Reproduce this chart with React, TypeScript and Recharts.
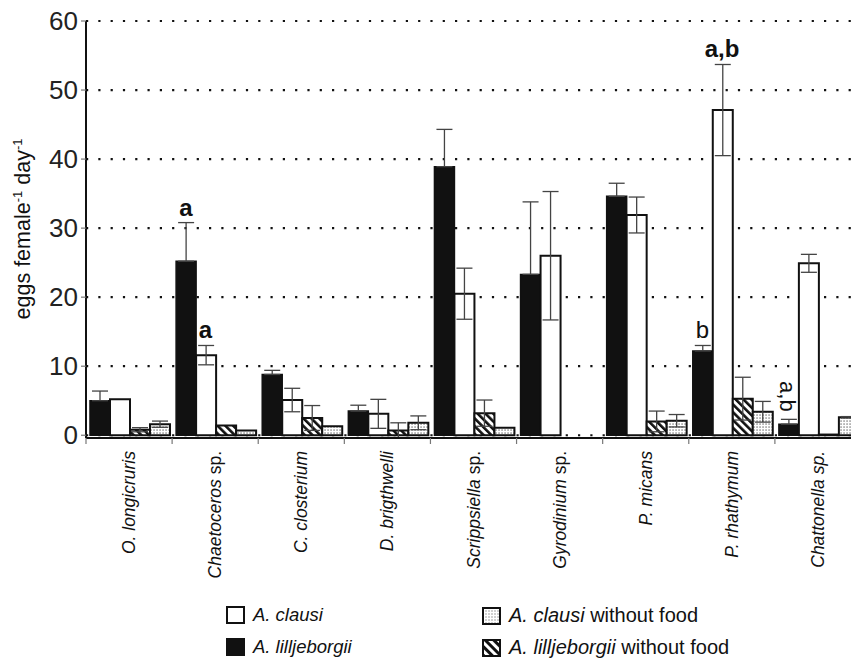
import React from 'react';
import { BarChart, Bar, XAxis, YAxis, CartesianGrid, ErrorBar, ReferenceDot } from 'recharts';

const categories = [
  'O. longicruris',
  'Chaetoceros sp.',
  'C. closterium',
  'D. brigthwelli',
  'Scrippsiella sp.',
  'Gyrodinium sp.',
  'P. micans',
  'P. rhathymum',
  'Chattonella sp.',
];
// italic part / upright suffix of each tick label
const labelItalic = ['O. longicruris', 'Chaetoceros', 'C. closterium', 'D. brigthwelli', 'Scrippsiella', 'Gyrodinium', 'P. micans', 'P. rhathymum', 'Chattonella sp.'];
const labelPlain = ['', ' sp.', '', '', ' sp.', ' sp.', '', '', ''];

const lilljeborgii = [5.0, 25.2, 8.8, 3.5, 38.9, 23.3, 34.6, 12.2, 1.6];
const lilljeborgiiErr = [1.4, 5.6, 0.6, 0.85, 5.4, 10.5, 1.9, 0.8, 0.7];
const clausi = [5.2, 11.6, 5.1, 3.1, 20.5, 26.0, 31.9, 47.1, 24.9];
const clausiErr = [0, 1.4, 1.7, 2.1, 3.7, 9.3, 2.6, 6.6, 1.3];
const lilljeborgiiNoFood = [0.8, 1.4, 2.5, 0.7, 3.2, null, 2.0, 5.3, 0.1];
const lilljeborgiiNoFoodErr = [0.3, 0, 1.8, 1.1, 1.9, null, 1.5, 3.1, 0];
const clausiNoFood = [1.6, 0.7, 1.3, 1.8, 1.1, null, 2.1, 3.4, 2.6];
const clausiNoFoodErr = [0.45, 0, 0, 1.0, 0, null, 0.9, 1.5, 0.1];

const yTicks = [0, 10, 20, 30, 40, 50, 60];

const annotations = [
  { category: 'Chaetoceros sp.', series: 'lill', text: 'a', bold: true, rotated: false },
  { category: 'Chaetoceros sp.', series: 'clausi', text: 'a', bold: true, rotated: false },
  { category: 'P. rhathymum', series: 'lill', text: 'b', bold: false, rotated: false },
  { category: 'P. rhathymum', series: 'clausi', text: 'a,b', bold: true, rotated: false },
  { category: 'Chattonella sp.', series: 'lill', text: 'a,b', bold: false, rotated: true },
];

const data = categories.map((name, i) => ({
  name,
  lill: lilljeborgii[i],
  lillErr: lilljeborgiiErr[i] ? [0, lilljeborgiiErr[i]] : null,
  clausi: clausi[i],
  clausiErr: clausiErr[i] || null,
  lillNF: lilljeborgiiNoFood[i],
  lillNFErr: lilljeborgiiNoFoodErr[i] || null,
  clausiNF: clausiNoFood[i],
  clausiNFErr: clausiNoFoodErr[i] || null,
}));

const FONT = '"Liberation Sans", Arial, sans-serif';
const CHART_W = 870;
const CHART_H = 661;
const MARGIN = { top: 21, right: 9, bottom: 0, left: 0 };
const Y_W = 86;
const PLOT_W = CHART_W - MARGIN.left - MARGIN.right - Y_W;
const BAND = PLOT_W / categories.length;
const CAT_GAP = 4;
const BAR_W = (BAND - 2 * CAT_GAP) / 4;
const seriesOffset: Record<string, number> = {
  lill: -BAND / 2 + CAT_GAP + BAR_W * 0.5,
  clausi: -BAND / 2 + CAT_GAP + BAR_W * 1.5,
};

const XTick = (props: any) => {
  const { x, y, payload } = props;
  const i = categories.indexOf(payload.value);
  return (
    <g>
      <line x1={x - BAND / 2} x2={x - BAND / 2} y1={y} y2={y + 6} stroke="#777" strokeWidth={1.2} />
      <text
        transform={`translate(${x + 6},${y + 13}) rotate(-90)`}
        textAnchor="end"
        fontSize={17.5}
        fontFamily={FONT}
        fill="#111"
      >
        <tspan fontStyle="italic">{labelItalic[i]}</tspan>
        {labelPlain[i] ? <tspan>{labelPlain[i]}</tspan> : null}
      </text>
    </g>
  );
};

const YLabel = () => (
  <text
    transform="translate(30,229) rotate(-90)"
    textAnchor="middle"
    fontSize={21.5}
    fontFamily={FONT}
    fill="#111"
  >
    <tspan>eggs female</tspan>
    <tspan dy={-8} fontSize={13}>-1</tspan>
    <tspan dy={8}> day</tspan>
    <tspan dy={-8} fontSize={13}>-1</tspan>
  </text>
);

const annotationShape = (a: any) => (p: any) => {
  const cx = p.cx + seriesOffset[a.series];
  const cy = p.cy;
  if (a.rotated) {
    return (
      <text
        transform={`translate(${cx - 9},${cy - 23}) rotate(90)`}
        textAnchor="middle"
        fontSize={22}
        fontFamily={FONT}
        fill="#111"
      >
        {a.text}
      </text>
    );
  }
  return (
    <text
      x={cx}
      y={cy - 7}
      textAnchor="middle"
      fontSize={24}
      fontWeight={a.bold ? 'bold' : 'normal'}
      fontFamily={FONT}
      fill="#111"
    >
      {a.text}
    </text>
  );
};

const annotationY = (a: any) => {
  const i = categories.indexOf(a.category);
  if (a.series === 'lill') return lilljeborgii[i] + lilljeborgiiErr[i];
  return clausi[i] + clausiErr[i];
};

const Swatch = ({ kind }: { kind: string }) => (
  <svg width={19} height={18} style={{ display: 'block' }}>
    <defs>
      <pattern id="lg-hatch" patternUnits="userSpaceOnUse" width={6} height={6} patternTransform="rotate(-45)">
        <rect x={0} y={0} width={6} height={6} fill="#fff" />
        <rect x={0} y={0} width={3} height={6} fill="#111" />
      </pattern>
      <pattern id="lg-dots" patternUnits="userSpaceOnUse" width={3} height={3}>
        <rect x={0} y={0} width={3} height={3} fill="#fff" />
        <rect x={0.5} y={0.5} width={1} height={1} fill="#444" />
      </pattern>
    </defs>
    <rect
      x={1}
      y={1}
      width={17}
      height={16}
      stroke="#111"
      strokeWidth={2}
      fill={kind === 'black' ? '#111' : kind === 'white' ? '#fff' : kind === 'hatch' ? 'url(#lg-hatch)' : 'url(#lg-dots)'}
    />
  </svg>
);

const legendItems = [
  { kind: 'white', italic: 'A. clausi', plain: '', left: 226, top: 604, size: 18.5 },
  { kind: 'black', italic: 'A. lilljeborgii', plain: '', left: 226, top: 636, size: 18.5 },
  { kind: 'dots', italic: 'A. clausi', plain: ' without food', left: 482, top: 604, size: 20 },
  { kind: 'hatch', italic: 'A. lilljeborgii', plain: ' without food', left: 482, top: 636, size: 20 },
];

export default function App() {
  return (
    <div
      style={{
        position: 'absolute',
        left: 0,
        top: 0,
        width: 851,
        height: 661,
        overflow: 'hidden',
        background: '#fff',
        fontFamily: FONT,
      }}
    >
      <BarChart
        width={CHART_W}
        height={CHART_H}
        data={data}
        margin={MARGIN}
        barCategoryGap={CAT_GAP}
        barGap={0}
      >
        <defs>
          <pattern id="hatch" patternUnits="userSpaceOnUse" width={5.5} height={5.5} patternTransform="rotate(-45)">
            <rect x={0} y={0} width={5.5} height={5.5} fill="#fff" />
            <rect x={0} y={0} width={2.6} height={5.5} fill="#111" />
          </pattern>
          <pattern id="dots" patternUnits="userSpaceOnUse" width={3} height={3}>
            <rect x={0} y={0} width={3} height={3} fill="#fff" />
            <rect x={0.5} y={0.5} width={1.1} height={1.1} fill="#333" />
          </pattern>
        </defs>
        <CartesianGrid
          vertical={false}
          stroke="#111"
          strokeWidth={2.2}
          strokeDasharray="2.2 10.1"
        />
        <XAxis
          dataKey="name"
          height={223}
          interval={0}
          tickLine={false}
          tickSize={0}
          tickMargin={0}
          axisLine={{ stroke: '#111', strokeWidth: 2 }}
          tick={<XTick />}
        />
        <YAxis
          width={Y_W}
          domain={[0, 60]}
          ticks={yTicks}
          interval={0}
          tickSize={5}
          tickMargin={3}
          tickLine={{ stroke: '#777', strokeWidth: 1.2 }}
          axisLine={{ stroke: '#111', strokeWidth: 2 }}
          tick={{ fontSize: 26, fill: '#222', fontFamily: FONT }}
          label={<YLabel />}
        />
        <Bar dataKey="lill" fill="#111" stroke="#111" strokeWidth={1.5} isAnimationActive={false}>
          <ErrorBar dataKey="lillErr" width={8} stroke="#444" strokeWidth={1.3} direction="y" />
        </Bar>
        <Bar dataKey="clausi" fill="#fff" stroke="#111" strokeWidth={2} isAnimationActive={false}>
          <ErrorBar dataKey="clausiErr" width={8} stroke="#444" strokeWidth={1.3} direction="y" />
        </Bar>
        <Bar dataKey="lillNF" fill="url(#hatch)" stroke="#111" strokeWidth={2} isAnimationActive={false}>
          <ErrorBar dataKey="lillNFErr" width={8} stroke="#444" strokeWidth={1.3} direction="y" />
        </Bar>
        <Bar dataKey="clausiNF" fill="url(#dots)" stroke="#111" strokeWidth={2} isAnimationActive={false}>
          <ErrorBar dataKey="clausiNFErr" width={8} stroke="#444" strokeWidth={1.3} direction="y" />
        </Bar>
        {annotations.map((a, k) => (
          <ReferenceDot
            key={k}
            x={a.category}
            y={annotationY(a)}
            r={0}
            ifOverflow="visible"
            shape={annotationShape(a)}
          />
        ))}
      </BarChart>
      {legendItems.map((it, k) => (
        <div
          key={k}
          style={{
            position: 'absolute',
            left: it.left,
            top: it.top,
            display: 'flex',
            alignItems: 'center',
            fontSize: it.size,
            color: '#111',
            whiteSpace: 'nowrap',
          }}
        >
          <Swatch kind={it.kind} />
          <span style={{ marginLeft: 8 }}>
            <i>{it.italic}</i>
            {it.plain}
          </span>
        </div>
      ))}
    </div>
  );
}
